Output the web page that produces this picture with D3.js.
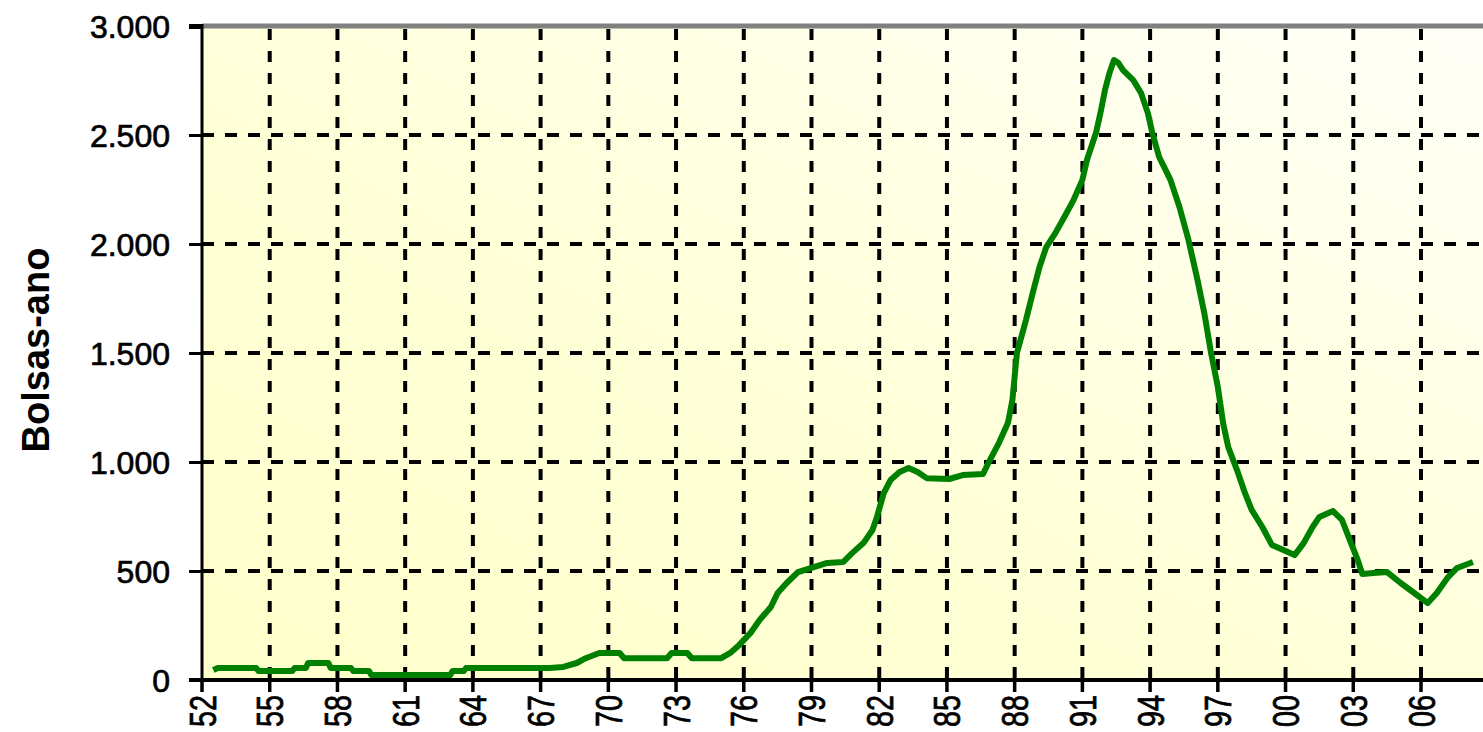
<!DOCTYPE html>
<html>
<head>
<meta charset="utf-8">
<script src="https://cdn.jsdelivr.net/npm/d3@7"></script>
<style>
body { margin: 0; background: #ffffff; }
svg { display: block; font-family: "Liberation Sans", Arial, sans-serif; }
</style>
</head>
<body>
<svg id="chart" width="1483" height="732"></svg>
<script>
// values (year, bolsas-ano)
var years = [1952.5, 1952.7, 1954.4, 1954.5, 1956.0, 1956.1, 1956.6, 1956.7, 1957.6, 1957.7,
    1958.6, 1958.7, 1959.4, 1959.5, 1963.0, 1963.1, 1963.6, 1963.7, 1967.4, 1968.0,
    1968.6, 1969.0, 1969.6, 1970.5, 1970.7, 1972.6, 1972.8, 1973.5, 1973.7, 1975.0,
    1975.4, 1975.8, 1976.3, 1976.7, 1977.2, 1977.5, 1977.9, 1978.4, 1979.1, 1979.7,
    1980.4, 1980.8, 1981.3, 1981.7, 1981.9, 1982.2, 1982.5, 1982.9, 1983.3, 1983.7,
    1984.1, 1985.1, 1985.7, 1986.6, 1986.9, 1987.3, 1987.7, 1987.9, 1988.1, 1988.5,
    1988.8, 1989.1, 1989.4, 1989.8, 1990.2, 1990.6, 1991.0, 1991.2, 1991.6, 1991.8,
    1992.0, 1992.2, 1992.4, 1992.6, 1992.8, 1993.25, 1993.6, 1993.9, 1994.1, 1994.4,
    1994.75, 1994.9, 1995.3, 1995.7, 1996.1, 1996.4, 1996.7, 1997.0, 1997.24, 1997.46,
    1997.85, 1998.2, 1998.5, 1998.97, 1999.4, 1999.9, 2000.4, 2000.8, 2001.2, 2001.5,
    2002.1, 2002.5, 2002.9, 2003.2, 2003.4, 2003.9, 2004.5, 2005.1, 2005.7, 2006.3,
    2006.7, 2007.2, 2007.6, 2008.3];

var bolsas = [46, 55, 55, 41, 41, 55, 55, 78, 78, 55,
    55, 41, 41, 23, 23, 41, 41, 55, 55, 60,
    78, 100, 124, 124, 100, 100, 124, 124, 100, 100,
    124, 161, 216, 275, 335, 399, 445, 495, 518, 537,
    541, 582, 628, 688, 748, 857, 917, 954, 972, 954,
    926, 922, 940, 945, 1009, 1087, 1179, 1284, 1500, 1651,
    1775, 1894, 1986, 2050, 2124, 2200, 2294, 2385, 2509, 2601,
    2706, 2784, 2844, 2830, 2798, 2752, 2692, 2601, 2509, 2399,
    2326, 2294, 2170, 2018, 1835, 1683, 1500, 1344, 1175, 1069,
    963, 858, 780, 702, 619, 596, 573, 628, 702, 748,
    775, 734, 628, 550, 486, 491, 495, 445, 399, 353,
    399, 472, 514, 541];

var xTicks = [1952, 1955, 1958, 1961, 1964, 1967, 1970, 1973, 1976, 1979,
    1982, 1985, 1988, 1991, 1994, 1997, 2000, 2003, 2006];
var xTickLabels = ["52", "55", "58", "61", "64", "67", "70", "73", "76", "79",
    "82", "85", "88", "91", "94", "97", "00", "03", "06"];
var yTicks = [0, 500, 1000, 1500, 2000, 2500, 3000];
var yTickLabels = ["0", "500", "1.000", "1.500", "2.000", "2.500", "3.000"];

var svg = d3.select("#chart");

var plot = { left: 202, right: 1483, top: 26, bottom: 680 };

var xScale = d3.scaleLinear()
    .domain([1952, 2006])
    .range([plot.left, 1421]);

var yScale = d3.scaleLinear()
    .domain([0, 3000])
    .range([plot.bottom, plot.top]);

// dithered yellow background -> gradient
var defs = svg.append("defs");
var grad = defs.append("linearGradient")
    .attr("id", "bg")
    .attr("x1", 0).attr("y1", 1)
    .attr("x2", 1).attr("y2", 0);
grad.append("stop").attr("offset", "0%").attr("stop-color", "#ffffcc");
grad.append("stop").attr("offset", "45%").attr("stop-color", "#ffffd8");
grad.append("stop").attr("offset", "100%").attr("stop-color", "#fffff8");

svg.append("rect")
    .attr("x", plot.left)
    .attr("y", plot.top)
    .attr("width", plot.right - plot.left)
    .attr("height", plot.bottom - plot.top)
    .style("fill", "url(#bg)");

// grid
svg.append("g")
    .selectAll("line")
    .data(yTicks.filter(function(d) { return d > 0 && d < 3000; }))
    .enter()
    .append("line")
    .attr("x1", plot.left)
    .attr("x2", plot.right)
    .attr("y1", function(d) { return yScale(d); })
    .attr("y2", function(d) { return yScale(d); })
    .style("stroke", "black")
    .style("stroke-width", 4)
    .style("stroke-dasharray", "12,11");

svg.append("g")
    .selectAll("line")
    .data(xTicks.slice(1))
    .enter()
    .append("line")
    .attr("x1", function(d) { return xScale(d); })
    .attr("x2", function(d) { return xScale(d); })
    .attr("y1", plot.top + 3)
    .attr("y2", plot.bottom)
    .style("stroke", "black")
    .style("stroke-width", 4)
    .style("stroke-dasharray", "11,11");

// top border
svg.append("line")
    .attr("x1", plot.left)
    .attr("x2", plot.right)
    .attr("y1", plot.top)
    .attr("y2", plot.top)
    .style("stroke", "#808080")
    .style("stroke-width", 5);

// the line
var line = d3.line()
    .x(function(d) { return xScale(d[0]); })
    .y(function(d) { return yScale(d[1]); });

svg.append("path")
    .datum(d3.zip(years, bolsas))
    .attr("d", line)
    .style("fill", "none")
    .style("stroke", "#008000")
    .style("stroke-width", 6)
    .style("stroke-linejoin", "round");

// y axis
var yAxis = d3.axisLeft(yScale)
    .tickValues(yTicks)
    .tickSize(13)
    .tickPadding(19)
    .tickFormat(function(d, i) { return yTickLabels[i]; });

var gy = svg.append("g")
    .attr("transform", "translate(" + plot.left + ",0)")
    .call(yAxis);
gy.select(".domain").remove();
gy.selectAll(".tick line").style("stroke", "black").style("stroke-width", 3);
gy.selectAll(".tick").filter(function(d) { return d == 3000; })
    .select("line").style("stroke-width", 5);
gy.selectAll("text")
    .style("font-size", "32px")
    .style("fill", "black")
    .style("stroke", "black")
    .style("stroke-width", 0.7)
    .attr("dy", "0.36em");

svg.append("line")
    .attr("x1", plot.left)
    .attr("x2", plot.left)
    .attr("y1", plot.top - 2)
    .attr("y2", plot.bottom)
    .style("stroke", "black")
    .style("stroke-width", 3);

// x axis
var gx = svg.append("g");
gx.append("line")
    .attr("x1", 189)
    .attr("x2", plot.right)
    .attr("y1", plot.bottom)
    .attr("y2", plot.bottom)
    .style("stroke", "black")
    .style("stroke-width", 4);

gx.selectAll(".xtick")
    .data(xTicks)
    .enter()
    .append("line")
    .attr("class", "xtick")
    .attr("x1", function(d) { return xScale(d); })
    .attr("x2", function(d) { return xScale(d); })
    .attr("y1", plot.bottom)
    .attr("y2", plot.bottom + 12)
    .style("stroke", "black")
    .style("stroke-width", 3.5);

gx.selectAll(".xlabel")
    .data(xTicks)
    .enter()
    .append("text")
    .attr("class", "xlabel")
    .attr("transform", function(d) {
        return "translate(" + xScale(d) + ",695) rotate(-90) scale(0.96,1.25)";
    })
    .attr("text-anchor", "end")
    .attr("dy", "0.36em")
    .style("font-size", "30px")
    .style("fill", "black")
    .style("stroke", "black")
    .style("stroke-width", 0.6)
    .text(function(d, i) { return xTickLabels[i]; });

// y title
svg.append("text")
    .attr("transform", "translate(49,350) rotate(-90)")
    .attr("text-anchor", "middle")
    .style("font-size", "38px")
    .style("font-weight", "bold")
    .style("fill", "black")
    .text("Bolsas-ano");
</script>
</body>
</html>
